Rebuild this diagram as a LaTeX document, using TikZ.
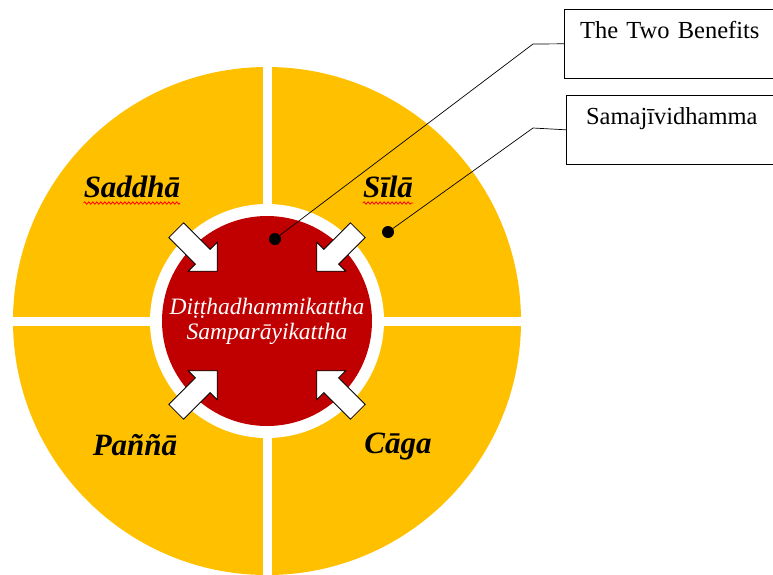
\documentclass[tikz,border=0pt]{standalone}
\usepackage{fontspec}
\setmainfont{Liberation Serif}
\usetikzlibrary{shapes.arrows,decorations.pathmorphing}
\definecolor{wheelyellow}{HTML}{FFC000}
\definecolor{corered}{HTML}{C00000}

\begin{document}
\begin{tikzpicture}[
    x=1pt, y=-1pt,
    every node/.style={font=\fontsize{24.5}{28}\selectfont},
    inward/.style={single arrow, draw=black, fill=white, line width=0.8pt,
                   minimum height=58pt, inner sep=10pt,
                   single arrow head extend=10pt},
    virtue/.style={inner sep=0pt, anchor=base,
                   font=\fontsize{31}{34}\selectfont\bfseries\itshape},
    infobox/.style={draw, line width=0.6pt, anchor=north west, inner xsep=14pt,
                    inner ysep=0pt, text width=183pt, align=center,
                    text height=29pt, text depth=40pt},
    marker/.style={circle, fill=black, inner sep=0pt, minimum size=12pt},
    leader/.style={draw, line width=0.7pt},
    squiggle/.style={draw=red, line width=0.8pt, decorate,
                     decoration={snake, amplitude=1.2pt, segment length=4pt}}
  ]
    \useasboundingbox (0,0) rectangle (773,574);

    % Rueda: cuatro sectores, anillo blanco y nucleo rojo
    \node[circle, fill=wheelyellow, minimum size=508pt] (wheel) at (267,321) {};
    \draw[white, line width=9pt] (wheel.north) -- (wheel.south);
    \draw[white, line width=9pt] (wheel.west) -- (wheel.east);
    \node[circle, fill=white, minimum size=234pt] (ring) at (wheel.center) {};
    \node[circle, fill=corered, minimum size=210pt, inner sep=0pt, text=white,
          align=center, font=\fontsize{23.5}{25}\selectfont\itshape]
          (core) at (wheel.center) {Diṭṭhadhammikattha\\Samparāyikattha};

    % Flechas hacia el nucleo
    \node[inward, rotate=-45]  (a1) at (193,247) {};
    \node[inward, rotate=-135] (a2) at (341,247) {};
    \node[inward, rotate=45]   (a3) at (193,395) {};
    \node[inward, rotate=135]  (a4) at (341,395) {};

    % Sectores
    \node[virtue] (saddha) at (132,197) {Saddhā};
    \node[virtue] (sila)   at (388,197) {Sīlā};
    \node[virtue] (panna)  at (135,455) {Paññā};
    \node[virtue] (caga)   at (398,453) {Cāga};
    \draw[squiggle] ([yshift=-6pt]saddha.base west) -- ([yshift=-6pt]saddha.base east);
    \draw[squiggle] ([yshift=-6pt]sila.base west) -- ([yshift=-6pt]sila.base east);

    % Cajas a la derecha
    \node[infobox] (benefits) at (564,9)  {The Two Benefits};
    \node[infobox] (samaji)   at (566,95) {Samajīvidhamma};

    % Lineas de referencia
    \node[marker] (dot1) at (275,239) {};
    \node[marker] (dot2) at (388,232) {};
    \coordinate (bend1) at (533,44);
    \coordinate (bend2) at (533,128);
    \draw[leader] (dot1.center) -- (bend1) -- (benefits.west);
    \draw[leader] (dot2.center) -- (bend2) -- (samaji.west);
  \end{tikzpicture}
\end{document}
